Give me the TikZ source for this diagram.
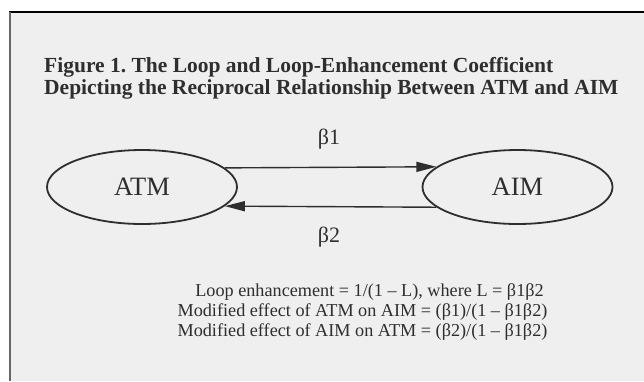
\documentclass[tikz,border=0pt]{standalone}
\usepackage{fontspec}
\setmainfont{Liberation Serif}
\usetikzlibrary{shapes.geometric,arrows.meta}
\definecolor{ink}{HTML}{2E2E2E}
\definecolor{paper}{HTML}{EFEFEF}
\tikzset{
  state/.style={ellipse, draw=ink, line width=1.8pt, minimum width=190pt, minimum height=74pt, inner sep=0pt, text=ink, font=\fontsize{26.5}{26.5}\selectfont},
  link/.style={draw=ink, line width=1.4pt, -{Triangle[length=20pt,width=10pt]}},
  coef/.style={text=ink, font=\fontsize{22}{22}\selectfont, inner sep=0pt},
  titletext/.style={text=ink, font=\fontsize{21.5}{21.5}\bfseries\selectfont, inner sep=0pt, anchor=base west},
  bodytext/.style={text=ink, font=\fontsize{18.2}{18.2}\selectfont, inner sep=0pt, anchor=base}
}
\begin{document}
\frenchspacing
\begin{tikzpicture}[x=1pt,y=-1pt]
\useasboundingbox (0,0) rectangle (644,381);
\fill[white] (0,0) rectangle (644,381);
\fill[paper] (10,12) rectangle (644,381);
\draw[black, line width=2.2pt] (9,12) -- (644,12);
\draw[black!60, line width=2pt] (10,12) -- (10,381);
\node[titletext] (t1) at (44,72) {Figure 1. The Loop and Loop-Enhancement Coefficient};
\node[titletext] (t2) at (44,94) {Depicting the Reciprocal Relationship Between ATM and AIM};
\node[state] (atm) at (142,187) {ATM};
\node[state] (aim) at (517.5,187) {AIM};
\draw[link] (atm.13.4) -- (aim.166.6);
\draw[link] (aim.-166.6) -- (atm.-13.4);
\node[coef] (b1) at (329,139) {β1};
\node[coef] (b2) at (329,237) {β2};
\node[bodytext] (l1) at (369.5,296) {Loop enhancement = 1/(1 – L), where L = β1β2};
\node[bodytext] (l2) at (362.5,316) {Modified effect of ATM on AIM = (β1)/(1 – β1β2)};
\node[bodytext] (l3) at (362.5,336) {Modified effect of AIM on ATM = (β2)/(1 – β1β2)};
\end{tikzpicture}
\end{document}
